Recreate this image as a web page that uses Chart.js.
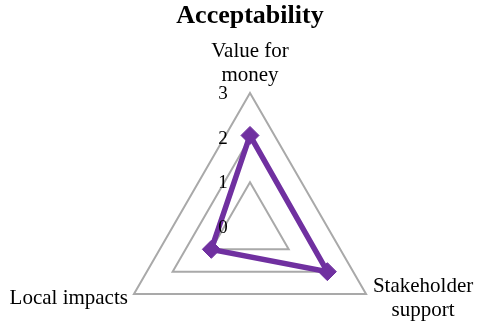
<!DOCTYPE html>
<html>
<head>
<meta charset="utf-8">
<script src="https://cdn.jsdelivr.net/npm/chart.js@4.4.1/dist/chart.umd.min.js"></script>
<style>
  html, body { margin: 0; padding: 0; background: #fff; height: 333px; overflow: hidden; }
  /* the plot area runs past the bottom edge, like the source where the ring is cut off */
  #wrap { width: 487px; height: 362px; }
</style>
</head>
<body>
<div id="wrap"><canvas id="chart"></canvas></div>
<script>
/* DATA */
const categories = [['Value for', 'money'], ['Stakeholder', 'support'], ['Local impacts']];
const values = [2.05, 2.0, 1.0];
const tickValues = [0, 1, 2, 3];

/* COLORS */
const purple = '#7030a0';
const gridGray = '#a9a9a9';
const serif = '"Liberation Serif", "Times New Roman", serif';

/* PLUGIN: point labels + tick labels drawn beside the axis */
const radarText = {
  id: 'radarText',
  afterDraw(chart) {
    const ctx = chart.ctx;
    const r = chart.scales.r;
    ctx.save();
    ctx.fillStyle = '#000';

    // tick labels, left of the vertical axis
    ctx.font = '19px ' + serif;
    ctx.textAlign = 'center';
    ctx.textBaseline = 'middle';
    tickValues.forEach((v) => {
      const y = r.yCenter - r.getDistanceFromCenterForValue(v);
      ctx.fillText(String(v), r.xCenter - 27, y + 1);
    });

    // category labels
    ctx.font = '21px ' + serif;
    ctx.textBaseline = 'alphabetic';
    const place = [
      { dx: 0, dy: -36, align: 'center' },
      { dx: 57, dy: -2, align: 'center' },
      { dx: -6, dy: 10, align: 'right' },
    ];
    categories.forEach((lines, i) => {
      const p = r.getPointPosition(i, r.drawingArea);
      const o = place[i];
      ctx.textAlign = o.align;
      lines.forEach((line, k) => {
        ctx.fillText(line, p.x + o.dx, p.y + o.dy + k * 24);
      });
    });
    ctx.restore();
  },
};

new Chart(document.getElementById('chart'), {
  type: 'radar',
  data: {
    labels: categories.map((l) => l.join(' ')),
    datasets: [
      {
        label: 'Acceptability',
        data: values,
        borderColor: purple,
        backgroundColor: purple,
        borderWidth: 5.5,
        fill: false,
        tension: 0,
        pointStyle: 'rectRot',
        pointRadius: 9,
        pointHoverRadius: 9,
        pointBackgroundColor: purple,
        pointBorderColor: purple,
        pointBorderWidth: 1,
      },
    ],
  },
  options: {
    responsive: true,
    maintainAspectRatio: false,
    animation: false,
    layout: { padding: { left: 13, right: 0, top: 0, bottom: 0 } },
    scales: {
      r: {
        min: 0,
        max: 3,
        ticks: { stepSize: 1, display: false },
        grid: { color: gridGray, lineWidth: 2, circular: false },
        angleLines: { display: false },
        pointLabels: { display: false },
      },
    },
    plugins: {
      legend: { display: false },
      tooltip: { enabled: false },
      title: {
        display: true,
        text: 'Acceptability',
        color: '#000',
        font: { family: serif, size: 26, weight: 'bold' },
        padding: { top: 1, bottom: 61 },
      },
    },
  },
  plugins: [radarText],
});
</script>
</body>
</html>
